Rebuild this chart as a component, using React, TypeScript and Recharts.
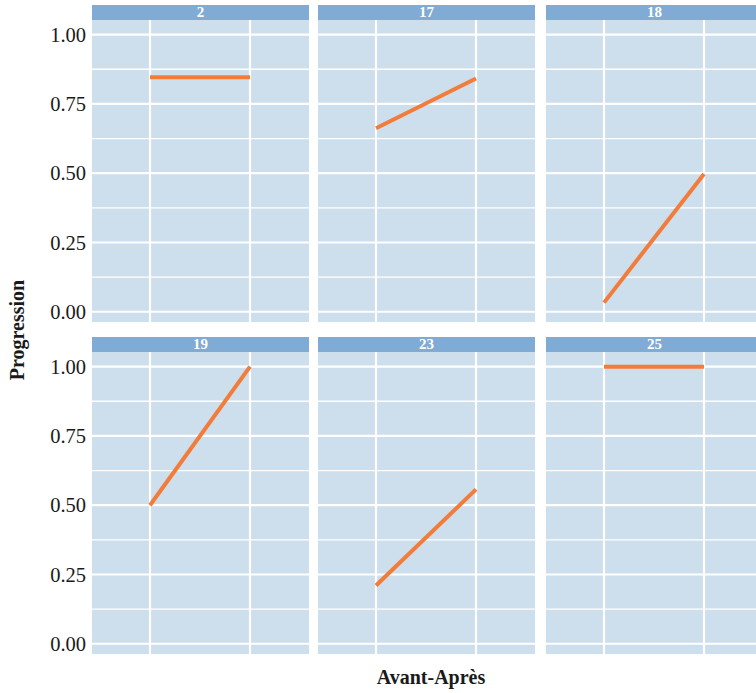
import { LineChart, Line, XAxis, YAxis, CartesianGrid, ReferenceLine } from "recharts";

// Facets (participant ids) and the two moments.
const facets = ["2", "17", "18", "19", "23", "25"];
const phases = ["Avant", "Après"];
const avant = [0.846, 0.662, 0.033, 0.5, 0.21, 1.0];
const apres = [0.846, 0.842, 0.497, 1.0, 0.557, 1.0];
const majorTicks = [0, 0.25, 0.5, 0.75, 1];
const minorTicks = [0.125, 0.375, 0.625, 0.875];

const C = {
  strip: "#80ABD4",
  panel: "#CDDEEC",
  line: "#F27C3A",
  ink: "#1a1a1a",
};
const font = "'Liberation Serif', 'Times New Roman', serif";

const colX = [92, 318, 546];
const rowY = [5, 337];
const panelW = 217;
const stripH = 15;
const plotH = 302;
const axisW = 92;

function Facet({ i }: { i: number }) {
  const col = i % 3;
  const row = Math.floor(i / 3);
  const left = col === 0;
  const data = phases.map((p, k) => ({ phase: p, v: k === 0 ? avant[i] : apres[i] }));
  const x0 = colX[col];
  return (
    <>
      <div
        style={{
          position: "absolute", left: x0, top: rowY[row], width: panelW, height: stripH,
          background: C.strip, color: "#fff", fontFamily: font, fontWeight: 700, fontSize: 15,
          lineHeight: `${stripH}px`, textAlign: "center",
        }}
      >
        {facets[i]}
      </div>
      <div style={{ position: "absolute", left: left ? x0 - axisW : x0, top: rowY[row] + stripH }}>
        <LineChart width={panelW + (left ? axisW : 0)} height={plotH} data={data}
          margin={{ top: 0, right: 0, bottom: 0, left: 0 }}>
          <CartesianGrid fill={C.panel} stroke="#fff" strokeWidth={1.4} vertical={false}
            horizontalValues={minorTicks} />
          <CartesianGrid stroke="#fff" strokeWidth={2.2} vertical={false} horizontalValues={majorTicks} />
          <XAxis dataKey="phase" scale="point" padding={{ left: 58, right: 59 }}
            height={0} tick={false} axisLine={false} tickLine={false} />
          <YAxis type="number" domain={[-0.037, 1.053]} ticks={majorTicks} allowDataOverflow interval={0}
            hide={!left} width={left ? axisW : 0} axisLine={false} tickLine={false} tickSize={0} tickMargin={6}
            tickFormatter={(v: number) => v.toFixed(2)}
            tick={{ fill: C.ink, fontSize: 20.5, fontFamily: font }} />
          {phases.map((p) => (
            <ReferenceLine key={p} x={p} stroke="#fff" strokeWidth={2.2} />
          ))}
          <Line dataKey="v" stroke={C.line} strokeWidth={4} dot={false} isAnimationActive={false} />
        </LineChart>
      </div>
    </>
  );
}

export default function App() {
  return (
    <div style={{ position: "fixed", left: 0, top: 0, width: 756, height: 693, overflow: "hidden", background: "#fff" }}>
      {facets.map((_, i) => <Facet key={i} i={i} />)}
      <div style={{
        position: "absolute", left: 17, top: 330, transform: "translate(-50%, -50%) rotate(-90deg)",
        fontFamily: font, fontWeight: 700, fontSize: 20, color: C.ink, whiteSpace: "nowrap",
      }}>
        Progression
      </div>
      <div style={{
        position: "absolute", left: 431, top: 677, transform: "translate(-50%, -50%)",
        fontFamily: font, fontWeight: 700, fontSize: 20, color: C.ink, whiteSpace: "nowrap",
      }}>
        Avant-Après
      </div>
    </div>
  );
}
